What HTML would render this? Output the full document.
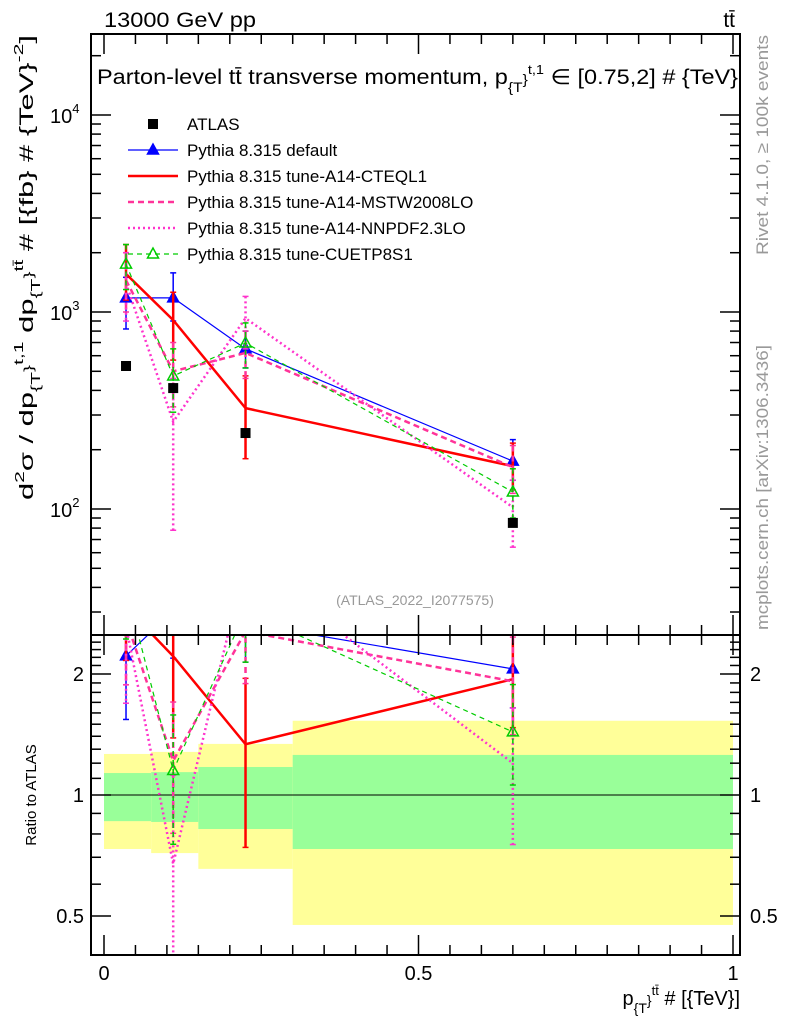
<!DOCTYPE html>
<html><head><meta charset="utf-8">
<style>
html,body{margin:0;padding:0;background:#fff;overflow:hidden;width:786px;height:1024px;}
svg{display:block;}
svg text{font-family:"Liberation Sans",sans-serif;}
</style></head>
<body>
<svg id="c" width="786" height="1024" viewBox="0 0 786 1024" xmlns="http://www.w3.org/2000/svg">
<rect x="0" y="0" width="786" height="1024" fill="#fff"/>
<g id="bands"></g>
<g id="marks"></g>
<g id="axes"></g>
<text x="104" y="27" font-size="21" textLength="152" lengthAdjust="spacingAndGlyphs">13000 GeV pp</text>
<text x="735" y="27" font-size="21" text-anchor="end">tt̄</text>
<text x="97" y="84" font-size="21" textLength="641" lengthAdjust="spacingAndGlyphs">Parton-level tt̄ transverse momentum, p<tspan font-size="14" dy="8">{T</tspan><tspan font-size="14" dy="-8">}</tspan><tspan font-size="13" dy="-10">t,1</tspan><tspan dy="10"> ∈ [0.75,2] # {TeV}</tspan></text>
<text x="415" y="605" font-size="14" fill="#999" text-anchor="middle">(ATLAS_2022_I2077575)</text>
<text transform="translate(768,35) rotate(-90)" font-size="17" fill="#999" text-anchor="end" textLength="220" lengthAdjust="spacingAndGlyphs">Rivet 4.1.0, ≥ 100k events</text>
<text transform="translate(768,630) rotate(-90)" font-size="17" fill="#999" text-anchor="start" textLength="285" lengthAdjust="spacingAndGlyphs">mcplots.cern.ch [arXiv:1306.3436]</text>
<text transform="translate(33,500) rotate(-90)" font-size="19" textLength="465" lengthAdjust="spacingAndGlyphs">d<tspan font-size="13" dy="-9">2</tspan><tspan dy="9">σ / dp</tspan><tspan font-size="13" dy="7">{T</tspan><tspan font-size="13" dy="-7">}</tspan><tspan font-size="13" dy="-10">t,1</tspan><tspan dy="10"> dp</tspan><tspan font-size="13" dy="7">{T</tspan><tspan font-size="13" dy="-7">}</tspan><tspan font-size="13" dy="-10">tt̄</tspan><tspan dy="10"> # [{fb} # {TeV}</tspan><tspan font-size="13" dy="-10">-2</tspan><tspan dy="10">]</tspan></text>
<text transform="translate(36,795) rotate(-90)" font-size="15" text-anchor="middle">Ratio to ATLAS</text>
<text x="740" y="1005" font-size="20" text-anchor="end">p<tspan font-size="14" dy="8">{T</tspan><tspan font-size="14" dy="-8">}</tspan><tspan font-size="13" dy="-10">tt̄</tspan><tspan dy="10"> # [{TeV}]</tspan></text>
<g id="legend"></g>
</svg>
<script>
const xPoints=[0.035,0.11,0.225,0.65];
const binEdges=[0,0.075,0.15,0.3,1];
const atlas=[532,411,243,85];
const bandYellowUp=[1.265,1.28,1.34,1.53];
const bandYellowDn=[0.734,0.717,0.655,0.475];
const bandGreenUp=[1.134,1.14,1.174,1.258];
const bandGreenDn=[0.861,0.857,0.823,0.734];
const defVals=[1180,1180,650,175];
const defUp=[1500,1580,800,225];
const defDn=[820,900,520,140];
const cteqVals=[1560,910,325,165];
const cteqUp=[2200,1260,474,216];
const cteqDn=[1150,570,180,125];
const mstwVals=[1450,500,620,163];
const mstwUp=[2000,700,800,210];
const mstwDn=[1000,330,460,120];
const nnpdfVals=[1400,277,930,102];
const nnpdfUp=[2000,460,1200,140];
const nnpdfDn=[900,78,650,64];
const cuetVals=[1750,473,696,122];
const cuetUp=[2200,650,880,160];
const cuetDn=[1300,310,520,90];
const yTickLabels=["10","10","10"];
const yTickExp=["4","3","2"];
const rTickVals=[2,1,0.5];
const xTickVals=[0,0.5,1];

const NS="http://www.w3.org/2000/svg";
const L=91,R=740,T=34,M=635,B=955;
const X=v=>104+629*v;
const Y=v=>312-197*Math.log10(v/1000);
const RY=r=>795-402*Math.log10(r);
function el(tag,attrs,parent){const e=document.createElementNS(NS,tag);for(const k in attrs)e.setAttribute(k,attrs[k]);parent.appendChild(e);return e;}
const bands=document.getElementById('bands'),marks=document.getElementById('marks'),axes=document.getElementById('axes'),legend=document.getElementById('legend');

const defs=el('defs',{},document.getElementById('c'));
const cp1=el('clipPath',{id:'cm'},defs);el('rect',{x:L,y:T,width:R-L,height:M-T},cp1);
const cp2=el('clipPath',{id:'cr'},defs);el('rect',{x:L,y:M,width:R-L,height:B-M},cp2);

for(let i=0;i<4;i++){
  const x0=X(binEdges[i]),x1=X(binEdges[i+1]);
  const y=el('rect',{x:x0,y:RY(bandYellowUp[i]),width:x1-x0,height:RY(bandYellowDn[i])-RY(bandYellowUp[i]),fill:'#ffff99'},bands);
  
  
  const g=el('rect',{x:x0,y:RY(bandGreenUp[i]),width:x1-x0,height:RY(bandGreenDn[i])-RY(bandGreenUp[i]),fill:'#99ff99'},bands);
  
  
}
const one=el('line',{x1:L,x2:R,y1:RY(1),y2:RY(1),stroke:'#000','stroke-width':1},bands);



const series=[
 {name:'default',v:defVals,u:defUp,d:defDn,c:'#0000ff',w:1.2,dash:'',m:'tri'},
 {name:'cteql1',v:cteqVals,u:cteqUp,d:cteqDn,c:'#ff0000',w:2.5,dash:'',m:''},
 {name:'mstw2008lo',v:mstwVals,u:mstwUp,d:mstwDn,c:'#ff3399',w:2.5,dash:'6,4',m:''},
 {name:'nnpdf23lo',v:nnpdfVals,u:nnpdfUp,d:nnpdfDn,c:'#ff33cc',w:2.5,dash:'2,3',m:''},
 {name:'cuetp8s1',v:cuetVals,u:cuetUp,d:cuetDn,c:'#00cc00',w:1.2,dash:'5,4',m:'otri'}
];
function tri(x,y,open,c,parent,nm){
  const p=el('polygon',{points:`${x},${y-6} ${x-5.5},${y+4} ${x+5.5},${y+4}`,fill:open?'none':c,stroke:c,'stroke-width':1.5},parent);
  
  
}
series.forEach(s=>{
  const gm=el('g',{'clip-path':'url(#cm)'},marks);
  
  
  const gr=el('g',{'clip-path':'url(#cr)'},marks);
  
  
  const pm=s.v.map((v,i)=>X(xPoints[i])+','+Y(v)).join(' ');
  const pr=s.v.map((v,i)=>X(xPoints[i])+','+RY(v/atlas[i])).join(' ');
  const l1=el('polyline',{points:pm,fill:'none',stroke:s.c,'stroke-width':s.w,'stroke-dasharray':s.dash},gm);
  
  
  const l2=el('polyline',{points:pr,fill:'none',stroke:s.c,'stroke-width':s.w,'stroke-dasharray':s.dash},gr);
  
  
  s.v.forEach((v,i)=>{
    const x=X(xPoints[i]);
    [[gm,Y],[gr,q=>RY(q/atlas[i])]].forEach(([g,f])=>{
      const e=el('line',{x1:x,x2:x,y1:f(s.u[i]),y2:f(s.d[i]),stroke:s.c,'stroke-width':s.w>2?2.5:1.5,'stroke-dasharray':s.dash},g);
      
      
      [s.u[i],s.d[i]].forEach(q=>{const c=el('line',{x1:x-3,x2:x+3,y1:f(q),y2:f(q),stroke:s.c,'stroke-width':1.5},g);
        
        });
      if(s.m)tri(x,g===gm?Y(v):RY(v/atlas[i]),s.m==='otri',s.c,g,'marker-'+s.name);
    });
  });
});
atlas.forEach((v,i)=>{
  const r=el('rect',{x:X(xPoints[i])-5,y:Y(v)-5,width:10,height:10,fill:'#000'},marks);
  
  
});

[[T,M],[M,B]].forEach(([a,b])=>{const f=el('rect',{x:L,y:a,width:R-L,height:b-a,fill:'none',stroke:'#000','stroke-width':2},axes);
  
  });
for(let e=1;e<=4;e++)for(let k=1;k<10;k++){
  const v=k*Math.pow(10,e);const y=Y(v);if(y<T||y>M)continue;
  const len=k===1?20:10;
  el('line',{x1:L,x2:L+len,y1:y,y2:y,stroke:'#000','stroke-width':1.5},axes);
  el('line',{x1:R,x2:R-len,y1:y,y2:y,stroke:'#000','stroke-width':1.5},axes);
}
yTickLabels.forEach((t,i)=>{
  const e=4-i;const tx=el('text',{x:50,y:Y(Math.pow(10,e))+8,'font-size':20},axes);
  
  
  tx.textContent=t;const s=el('tspan',{'font-size':13,dy:-10},tx);s.textContent=yTickExp[i];
});
const rMinor=[0.4,0.5,0.6,0.7,0.8,0.9,1,1.1,1.2,1.3,1.4,1.5,1.6,1.7,1.8,1.9,2,2.1,2.2,2.3,2.4,2.5];
rMinor.forEach(r=>{const y=RY(r);if(y<M||y>B)return;const len=rTickVals.includes(r)?20:10;
  el('line',{x1:L,x2:L+len,y1:y,y2:y,stroke:'#000','stroke-width':1.5},axes);
  el('line',{x1:R,x2:R-len,y1:y,y2:y,stroke:'#000','stroke-width':1.5},axes);});
rTickVals.forEach(r=>{
  const a=el('text',{x:84,y:RY(r)+7,'font-size':20,'text-anchor':'end'},axes);a.textContent=String(r);
  
  
  const b=el('text',{x:750,y:RY(r)+7,'font-size':20},axes);b.textContent=String(r);
  
  
});
for(let k=0;k<=20;k++){const v=k*0.05;const x=X(v);const len=k%10===0?20:10;
  [[T,1],[M,1],[M,-1],[B,-1]].forEach(([y,d])=>el('line',{x1:x,x2:x,y1:y,y2:y+d*len,stroke:'#000','stroke-width':1.5},axes));}
xTickVals.forEach(v=>{const t=el('text',{x:X(v),y:980,'font-size':20,'text-anchor':'middle'},axes);t.textContent=String(v);
  
  });

const legItems=[['ATLAS','#000','',0,'sq'],['Pythia 8.315 default','#0000ff','',1.2,'tri'],['Pythia 8.315 tune-A14-CTEQL1','#ff0000','',2.5,''],
 ['Pythia 8.315 tune-A14-MSTW2008LO','#ff3399','6,4',2.5,''],['Pythia 8.315 tune-A14-NNPDF2.3LO','#ff33cc','2,3',2.5,''],['Pythia 8.315 tune-CUETP8S1','#00cc00','5,4',1.2,'otri']];
legItems.forEach((it,i)=>{
  const y=124+i*26;
  const g=el('g',{},legend);
  
  
  if(it[4]==='sq')el('rect',{x:148,y:y-5,width:10,height:10,fill:'#000'},g);
  else{el('line',{x1:128,x2:178,y1:y,y2:y,stroke:it[1],'stroke-width':it[3],'stroke-dasharray':it[2]},g);
    if(it[4])tri(153,y,it[4]==='otri',it[1],g,'legend-marker');}
  const t=el('text',{x:187,y:y+6,'font-size':17},g);t.textContent=it[0];
});
</script>
</body></html>
